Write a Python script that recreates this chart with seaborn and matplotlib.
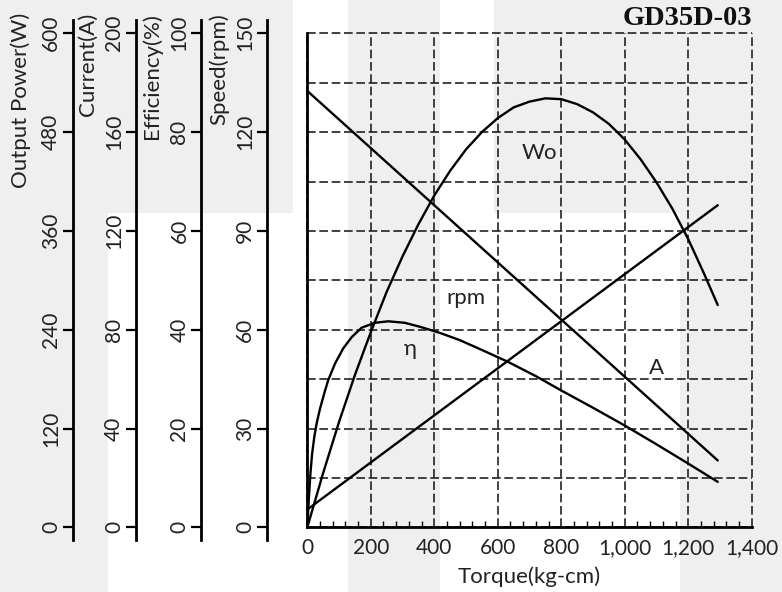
import matplotlib
matplotlib.use("Agg")
import matplotlib.pyplot as plt
from matplotlib.patches import Rectangle
from matplotlib.ticker import MultipleLocator
import seaborn as sns

# torque (kg-cm) vs output power (W)
torque_pw = [0, 50, 100, 150, 200, 250, 300, 350, 400, 450, 500, 550, 600, 650,
             700, 750, 800, 850, 900, 950, 1000, 1050, 1100, 1150, 1200, 1250, 1293]
power_w = [0, 66, 128, 185, 237, 286, 329, 368, 403, 433, 459, 480, 497, 510,
           517, 521, 520, 514, 504, 490, 471, 447, 419, 387, 350, 308, 270]

# torque vs efficiency (%)
torque_eff = [0, 5, 10, 15, 22, 30, 40, 56, 66, 87, 113, 140, 171, 213, 255, 307,
              360, 420, 480, 550, 632, 720, 800, 900, 1000, 1100, 1200, 1293]
efficiency = [0, 6.0, 11.0, 14.8, 18.3, 21.2, 24.0, 27.7, 29.8, 33.1, 36.2, 38.5,
              40.4, 41.4, 41.7, 41.4, 40.5, 39.3, 37.9, 35.9, 33.5, 30.6, 27.7,
              24.2, 20.6, 16.8, 12.9, 9.2]

# straight lines: current (A) and speed (rpm)
torque_line = [0, 1293]
current_a = [7.2, 130.4]
speed_rpm = [132.5, 20.3]

axis_names = ["Output Power(W)", "Current(A)", "Efficiency(%)", "Speed(rpm)"]
axis_max = [600, 200, 100, 150]
x_ticks = [0, 200, 400, 600, 800, 1000, 1200, 1400]
x_tick_labels = ["0", "200", "400", "600", "800", "1,000", "1,200", "1,400"]

curve_labels = ["Wo", "rpm", "η", "A"]
label_x = [732, 501, 326, 1100]
label_y = [455, 279, 216, 194]  # in output power units

sns.set_theme(style="white")
plt.rcParams['font.family'] = ['Lato', 'DejaVu Sans']
TXT = '#222222'
FS_TICK = 15
FS_LAB = 16

W, H = 782, 592
fig = plt.figure(figsize=(W / 100, H / 100), dpi=100)
fig.patch.set_facecolor('white')

# light grey background blocks
grey = '#efefef'
for (x0, y0, x1, y1) in [(0, 0, 293, 213), (0, 213, 108, 592), (348, 0, 440, 592),
                         (494, 0, 782, 213), (680, 213, 782, 592)]:
    fig.patches.append(Rectangle((x0 / W, 1 - y1 / H), (x1 - x0) / W, (y1 - y0) / H,
                                 transform=fig.transFigure, facecolor=grey,
                                 edgecolor='none', zorder=-10))

# main plot area
left, right, top, bottom = 307.3, 751.7, 33.3, 527.3
ax = fig.add_axes([left / W, 1 - bottom / H, (right - left) / W, (bottom - top) / H])
ax.patch.set_visible(False)
ax.set_xlim(0, 1400)
ax.set_ylim(0, 600)
ax.set_xticks(x_ticks)
ax.set_xticklabels(x_tick_labels)
ax.xaxis.set_minor_locator(MultipleLocator(40))
ax.set_yticks(range(0, 601, 60))
ax.set_yticklabels([])
ax.tick_params(axis='y', length=0)
ax.tick_params(axis='x', which='major', direction='in', length=5, width=1.2,
               color='black', labelsize=FS_TICK, labelcolor=TXT, pad=8)
ax.tick_params(axis='x', which='minor', direction='in', length=4, width=1.0,
               color='black', bottom=True)
ax.grid(True, which='major', color='#222222', linewidth=1.2, linestyle=(0, (5.2, 2.2)))
for gl in ax.get_xgridlines() + ax.get_ygridlines():
    gl.set_clip_on(False)
for s in ['top', 'right']:
    ax.spines[s].set_visible(False)
for s in ['left', 'bottom']:
    ax.spines[s].set_color('black')
    ax.spines[s].set_linewidth(2.0)
ax.set_xlabel("Torque(kg-cm)", fontsize=FS_LAB, color=TXT, labelpad=6)

sns.lineplot(x=torque_pw, y=power_w, ax=ax, color='black', linewidth=1.7, estimator=None)

twins = {}
for key, vmax in [('cur', 200), ('eff', 100), ('spd', 150)]:
    t = ax.twinx()
    t.set_ylim(0, vmax)
    t.axis('off')
    twins[key] = t
sns.lineplot(x=torque_line, y=current_a, ax=twins['cur'], color='black', linewidth=1.7, estimator=None)
sns.lineplot(x=torque_eff, y=efficiency, ax=twins['eff'], color='black', linewidth=1.7,
             estimator=None, sort=False)
sns.lineplot(x=torque_line, y=speed_rpm, ax=twins['spd'], color='black', linewidth=1.7, estimator=None)

for txt, lx, ly in zip(curve_labels, label_x, label_y):
    ax.text(lx, ly, txt, fontsize=FS_LAB, color=TXT, ha='center', va='center', zorder=5)

# left-hand value axes
spine_x = [72.7, 136.0, 201.3, 266.7]
name_x = [20.5, 88.0, 152.0, 219.0]
sp_top, sp_bot = 20, 540
for name, vmax, sx, nx in zip(axis_names, axis_max, spine_x, name_x):
    la = fig.add_axes([sx / W, 1 - sp_bot / H, 0.0005, (sp_bot - sp_top) / H])
    la.patch.set_visible(False)
    per_px = vmax / (bottom - top)
    la.set_ylim(-(sp_bot - bottom) * per_px, vmax + (top - sp_top) * per_px)
    la.set_yticks(list(range(0, vmax + 1, vmax // 5)))
    la.set_xticks([])
    for s in ['top', 'right', 'bottom']:
        la.spines[s].set_visible(False)
    la.spines['left'].set_color('black')
    la.spines['left'].set_linewidth(2.0)
    la.tick_params(axis='y', direction='out', length=7, width=1.6, color='black',
                   labelsize=FS_TICK, labelcolor=TXT, pad=1.5, left=True)
    for lab in la.get_yticklabels():
        lab.set_rotation(90)
        lab.set_va('center')
    fig.text(nx / W, 1 - 13 / H, name, rotation=90, ha='center', va='top',
             fontsize=FS_LAB, color=TXT)

fig.text(752 / W, 1 - 18.3 / H, "GD35D-03", ha='right', va='center', fontsize=20.5,
         fontweight='bold', family=['Liberation Serif', 'DejaVu Serif'], color='#111111')

fig.savefig("out.png", dpi=100)
